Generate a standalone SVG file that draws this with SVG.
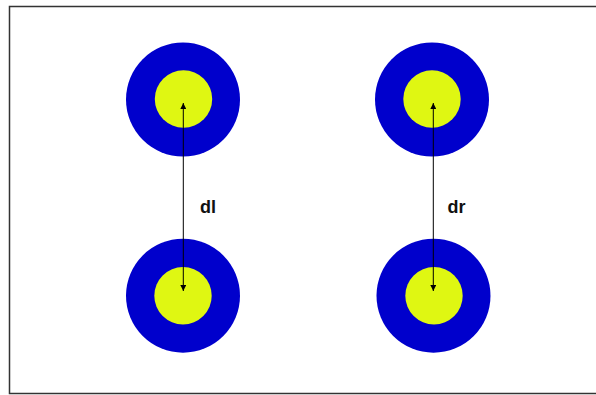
<svg xmlns="http://www.w3.org/2000/svg" width="596" height="395" viewBox="0 0 596 395">
<style>
.outer{fill:#0000cc}
.inner{fill:#dff712}
.conn{stroke:#000;stroke-width:1;fill:none;marker-start:url(#ah);marker-end:url(#ah)}
.lbl{font-family:"Liberation Sans",Arial,sans-serif;font-size:18px;font-weight:bold;fill:#111}
</style>
<defs>
<marker id="ah" viewBox="0 0 6 6" refX="6" refY="3" markerWidth="6" markerHeight="6" orient="auto-start-reverse" markerUnits="userSpaceOnUse">
<path d="M0,0 L6,3 L0,6 Z" fill="#000"/>
</marker>
</defs>
<rect x="9.5" y="6.5" width="600" height="387" fill="#fff" stroke="#333" stroke-width="1.5"/>
<g id="node-tl"><circle class="outer" cx="183" cy="99.5" r="57"/><circle class="inner" cx="183.5" cy="99" r="28.7"/></g>
<g id="node-bl"><circle class="outer" cx="183" cy="295.7" r="57"/><circle class="inner" cx="183" cy="295.7" r="28.7"/></g>
<g id="node-tr"><circle class="outer" cx="432" cy="99.5" r="57"/><circle class="inner" cx="432" cy="99" r="28.7"/></g>
<g id="node-br"><circle class="outer" cx="433.5" cy="295.7" r="57"/><circle class="inner" cx="434" cy="295.7" r="28.7"/></g>
<g id="connectors">
<line class="conn" x1="183.3" y1="103" x2="183.3" y2="291"/>
<line class="conn" x1="433.3" y1="103" x2="433.3" y2="291"/>
</g>
<text class="lbl" x="200" y="213">dl</text>
<text class="lbl" x="447.5" y="213">dr</text>
</svg>
